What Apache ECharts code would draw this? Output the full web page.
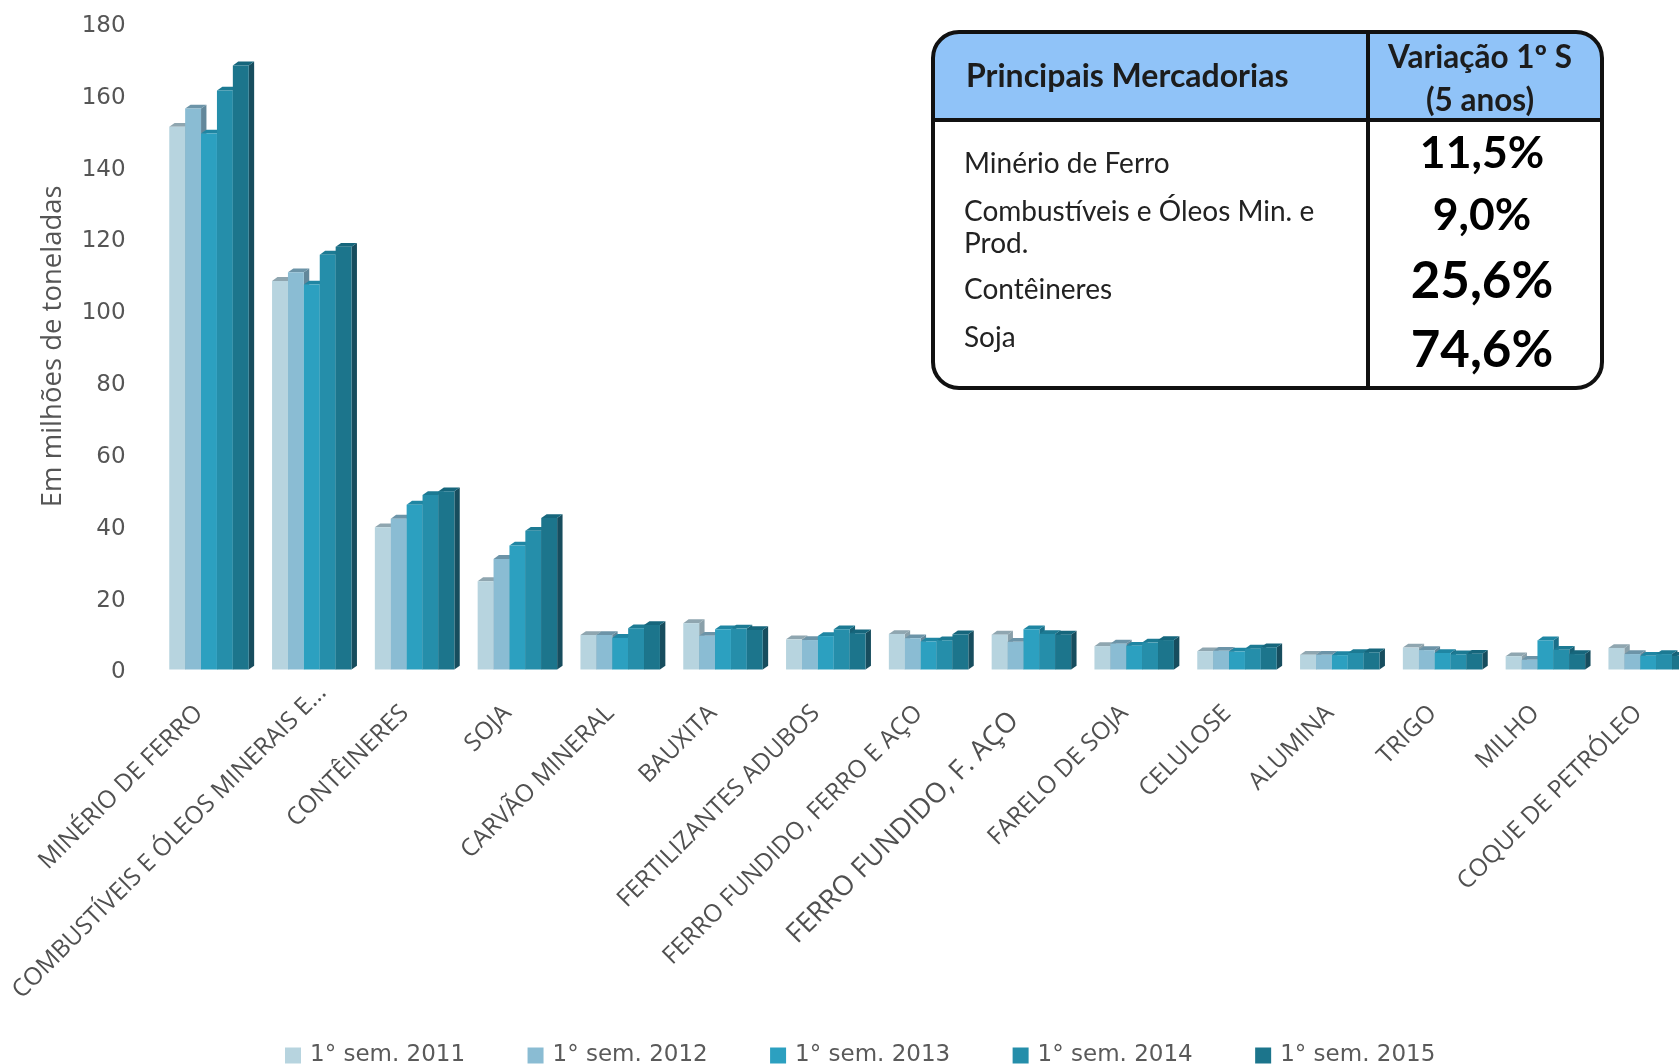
<!DOCTYPE html>
<html><head><meta charset="utf-8">
<script src="https://cdn.jsdelivr.net/npm/echarts@6/dist/echarts.min.js"></script>
<style>html,body{margin:0;padding:0;background:#fff}#c{width:1679px;height:1064px}</style>
</head><body><div id="c"></div>
<script>
const categories = ["MINÉRIO DE FERRO","COMBUSTÍVEIS E ÓLEOS MINERAIS E...","CONTÊINERES","SOJA","CARVÃO MINERAL","BAUXITA","FERTILIZANTES ADUBOS","FERRO FUNDIDO, FERRO E AÇO","FERRO FUNDIDO, F. AÇO","FARELO DE SOJA","CELULOSE","ALUMINA","TRIGO","MILHO","COQUE DE PETRÓLEO"];
const seriesNames = ["1° sem. 2011","1° sem. 2012","1° sem. 2013","1° sem. 2014","1° sem. 2015"];
const s2011 = [151.1,108.2,39.6,24.6,9.6,12.9,8.4,9.9,9.7,6.5,5.1,4.1,6.1,3.7,6];
const s2012 = [156.2,110.6,42,30.8,9.6,9.4,8.2,8.7,7.7,7.2,5.2,4.1,5.4,2.7,4.3];
const s2013 = [149.2,107.2,45.9,34.5,8.8,11.2,9.3,7.8,11.2,6.6,5,4,4.6,8.1,3.8];
const s2014 = [161.2,115.5,48.6,38.6,11.5,11.4,11.2,8.1,9.9,7.5,5.8,4.6,4.2,5.5,4.3];
const s2015 = [168.2,117.7,49.6,42.2,12.4,11,10.1,9.8,9.7,8.2,6.2,4.8,4.4,4.3,3.8];
const allSeries = [s2011,s2012,s2013,s2014,s2015];
const frontColors = ["#b7d4df","#8abcd3","#2ca0c0","#258eaa","#1c758c"];
const topColors = ["#8fa6b0","#6c94a8","#1f86a3","#1c7a93","#16667c"];
const sideColors = ["#8aa0aa","#62879a","#1a6f88","#175f74","#174d5e"];
const tableRows = ["Minério de Ferro","Combustíveis e Óleos Min. e","Prod.","Contêineres","Soja"];
const tableValues = ["11,5%","9,0%","25,6%","74,6%"];

const chart = echarts.init(document.getElementById('c'),null,{renderer:'canvas'});
const barFrac = 15.9/102.8, depthX = 5.4, depthY = 3.8;
function renderBar(params, api){
  const idx = api.value(0), val = api.value(1);
  const base = api.coord([idx,0]), top = api.coord([idx,val]);
  const band = api.size([1,0])[0];
  const w = band*barFrac;
  const x0 = base[0]-2.5*w+params.seriesIndex*w, x1 = x0+w;
  const si = params.seriesIndex;
  return {type:'group',children:[
    {type:'polygon',shape:{points:[[x1,top[1]],[x1+depthX,top[1]-depthY],[x1+depthX,base[1]-depthY],[x1,base[1]]]},style:{fill:sideColors[si]}},
    {type:'polygon',shape:{points:[[x0,top[1]],[x0+depthX,top[1]-depthY],[x1+depthX,top[1]-depthY],[x1,top[1]]]},style:{fill:topColors[si]}},
    {type:'rect',shape:{x:x0,y:top[1],width:w,height:base[1]-top[1]},style:{fill:frontColors[si]}}
  ]};
}
const LX=933,TY=32,RX=1602,BY=388,DX=1368,HY=120,R=26;
const tf = "Lato";
function t(x,y,text,size,weight,align,color){return {type:'text',z:20,x:x,y:y,style:{text:text,font:(weight||'normal')+' '+size+'px '+tf,fill:color||'#1c1c1c',textAlign:align||'left',textVerticalAlign:'middle'}};}
const rowY=[164,212,244,290,338], valY=[154,216,281.5,351], valSize=[44.5,44.5,51,51];
const labelItems = categories.map(c=>{
  if(c.endsWith('E...')) return {value:c,textStyle:{padding:[0,-15,0,0]}};
  if(c.endsWith('F. AÇO')) return {value:c,textStyle:{fontSize:27.5,padding:[0,24,0,0]}};
  return c;
});
chart.setOption({
  animation:false,
  backgroundColor:'#fff',
  grid:{left:157.6,top:23,width:1542,height:646.5,containLabel:false,outerBoundsMode:'none'},
  legend:{left:280,top:1039,itemWidth:16,itemHeight:16,itemGap:62.4,icon:'rect',data:seriesNames,
    textStyle:{color:'#5a5a5a',fontFamily:'DejaVu Sans',fontSize:23,padding:[0,0,4,4]}},
  xAxis:{type:'category',data:labelItems,axisLine:{show:false},axisTick:{show:false},
    axisLabel:{interval:0,rotate:45,margin:30,padding:[0,14,0,0],color:'#505050',fontFamily:'Open Sans',fontSize:24.4,width:500,overflow:'none'}},
  yAxis:{type:'value',min:0,max:180,interval:20,splitLine:{show:false},axisLine:{show:false},axisTick:{show:false},
    name:'Em milhões de toneladas',nameLocation:'middle',nameGap:90,nameRotate:90,
    nameTextStyle:{color:'#555',fontFamily:'Open Sans',fontSize:27.5},
    axisLabel:{margin:32,verticalAlign:'top',lineHeight:6,color:'#555',fontFamily:'DejaVu Sans',fontSize:23}},
  series:allSeries.map((vals,i)=>({
    type:'custom',name:seriesNames[i],renderItem:renderBar,clip:false,
    itemStyle:{color:frontColors[i]},
    encode:{x:0,y:1},
    data:vals.map((v,j)=>[j,v])
  })),
  graphic:{elements:[
    {type:'rect',z:10,shape:{x:LX,y:TY,width:RX-LX,height:BY-TY,r:R},style:{fill:'#fff'}},
    {type:'rect',z:11,shape:{x:LX,y:TY,width:RX-LX,height:HY-TY,r:[R,R,0,0]},style:{fill:'#90c3f8'}},
    {type:'rect',z:12,shape:{x:LX,y:TY,width:RX-LX,height:BY-TY,r:R},style:{fill:'none',stroke:'#111',lineWidth:4}},
    {type:'line',z:12,shape:{x1:LX,y1:HY,x2:RX,y2:HY},style:{stroke:'#111',lineWidth:4}},
    {type:'line',z:12,shape:{x1:DX,y1:TY,x2:DX,y2:BY},style:{stroke:'#111',lineWidth:4}},
    t(966,77,'Principais Mercadorias',32,'bold'),
    t(1480,58,'Variação 1º S',31.5,'bold','center'),
    t(1480,100.5,'(5 anos)',31.5,'bold','center'),
    ...tableRows.map((r,i)=>t(964,rowY[i],r,28,'normal','left','#222')),
    ...tableValues.map((v,i)=>t(1482,valY[i],v,valSize[i],'bold','center','#000'))
  ]}
});
</script></body></html>
